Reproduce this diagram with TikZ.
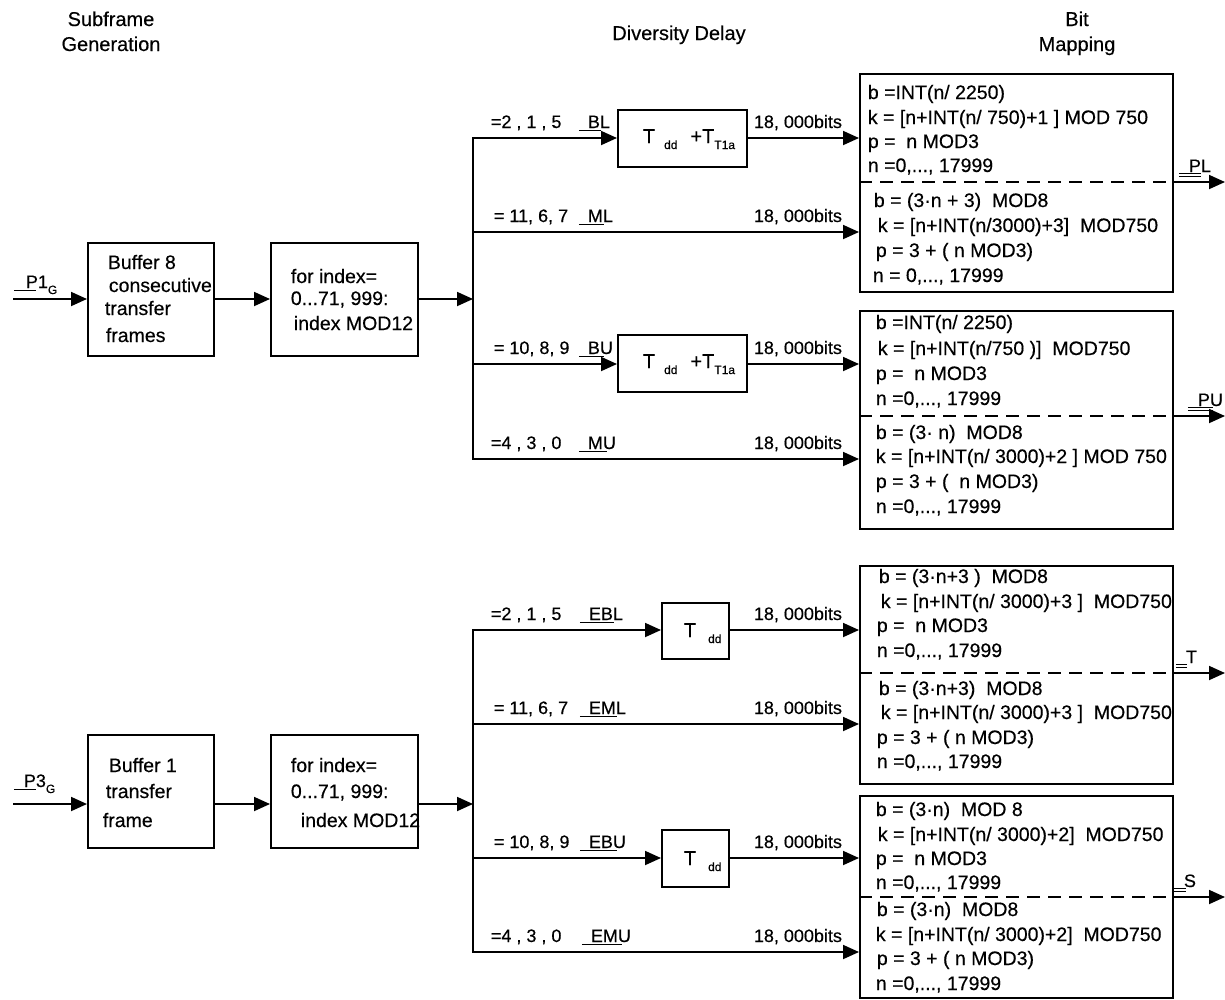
\documentclass[tikz,border=0pt]{standalone}
\usepackage{fontspec}
\setmainfont{Liberation Sans}[FakeBold=0.4]
\usetikzlibrary{arrows.meta}
\newlength\ulw
\newcommand\sul[2][9pt]{\settowidth\ulw{#2}\makebox[0pt][l]{\kern-#1\rule[-2.5pt]{\ulw}{1pt}}#2}
\newcommand\dul[1]{\settowidth\ulw{#1}\makebox[0pt][l]{\kern-10pt\rule[-1.5pt]{\ulw}{1pt}}\makebox[0pt][l]{\kern-10pt\rule[-4.5pt]{\ulw}{1pt}}#1}
\newcommand\subsm[1]{\raisebox{-6pt}{\fontsize{12}{12}\selectfont #1}}
\begin{document}
\begin{tikzpicture}[x=1pt,y=-1pt,line width=1.8pt,
  >={Triangle[length=16pt,width=14pt]},
  box/.style={draw,line width=1.8pt,inner sep=0pt,anchor=north west},
  tx/.style={anchor=base west,inner sep=0pt,font=\fontsize{19.5}{22}\selectfont},
  lb/.style={anchor=base west,inner sep=0pt,font=\fontsize{18}{22}\selectfont},
  hd/.style={anchor=base,inner sep=0pt,font=\fontsize{20}{24}\selectfont},
  dsh/.style={line width=1.5pt,dash pattern=on 13pt off 8pt}]
\useasboundingbox (0,0) rectangle (1225,999);

% headers
\node[hd] (h1) at (111,26) {Subframe};
\node[hd] (h2) at (111,51) {Generation};
\node[hd] (h3) at (679,40) {Diversity Delay};
\node[hd] (h4) at (1077,26) {Bit};
\node[hd] (h5) at (1077,51) {Mapping};

% ---------- upper group ----------
\node[box,minimum width=126pt,minimum height=113pt] (buf1) at (87,242) {};
\node[box,minimum width=147pt,minimum height=113pt] (idx1) at (270,242) {};
\node[tx] (bt1) at (107,269) {Buffer 8};
\node[tx] (bt2) at (108,292) {consecutive};
\node[tx] (bt3) at (104,315) {transfer};
\node[tx] (bt4) at (105,342) {frames};
\node[tx] (it1) at (290,283) {for index=};
\node[tx] (it2) at (290,305) {0...71, 999:};
\node[tx] (it3) at (293,330) {index MOD12};
\coordinate (in1) at (13,299);
\node[lb] (p1) at (25,288) {\sul[12pt]{P1}\subsm{G}};
\draw[->] (in1) -- (in1 -| buf1.west);
\draw[->] (buf1.east |- in1) -- (idx1.west |- in1);
\coordinate (b1t) at (473,138);
\coordinate (b1ml) at (473,232);
\coordinate (b1bu) at (473,364);
\coordinate (b1b) at (473,459);
\draw[->] (idx1.east |- in1) -- (473,299);

\node[box,minimum width=129pt,minimum height=57pt] (dl1) at (617,109) {};
\node[box,minimum width=129pt,minimum height=57pt] (dl2) at (617,334) {};
\node[tx,font=\fontsize{20}{22}\selectfont] (dt1) at (642,143) {T\kern9pt\subsm{dd}\kern13pt+T\subsm{T1a}};
\node[tx,font=\fontsize{20}{22}\selectfont] (dt2) at (642,368) {T\kern9pt\subsm{dd}\kern13pt+T\subsm{T1a}};

\node[box,minimum width=313pt,minimum height=218pt] (rb1) at (859,73) {};
\node[box,minimum width=313pt,minimum height=218pt] (rb2) at (859,310) {};

\draw[->] (b1b) -- (b1t) -- (b1t -| dl1.west);
\draw[->] (dl1.east |- b1t) -- (b1t -| rb1.west);
\draw[->] (b1ml) -- (b1ml -| rb1.west);
\draw[->] (b1bu) -- (b1bu -| dl2.west);
\draw[->] (dl2.east |- b1bu) -- (b1bu -| rb2.west);
\draw[->] (b1t) -- (b1b) -- (b1b -| rb2.west);

\node[lb] (l1) at (490,128) {=2 , 1 , 5};
\node[lb] (u1) at (587,128) {\sul{BL}};
\node[lb] (s1) at (753,128) {18, 000bits};
\node[lb] (l2) at (493,222) {= 11, 6, 7};
\node[lb] (u2) at (587,222) {\sul{ML}};
\node[lb] (s2) at (753,222) {18, 000bits};
\node[lb] (l3) at (493,354) {= 10, 8, 9};
\node[lb] (u3) at (587,354) {\sul{BU}};
\node[lb] (s3) at (753,354) {18, 000bits};
\node[lb] (l4) at (490,449) {=4 , 3 , 0};
\node[lb] (u4) at (587,449) {\sul{MU}};
\node[lb] (s4) at (753,449) {18, 000bits};

% box 1 text
\node[tx] (r1a) at (867,99) {b =INT(n/ 2250)};
\node[tx] (r1b) at (867,124) {k = [n+INT(n/ 750)+1 ] MOD 750};
\node[tx] (r1c) at (867,148) {p =\ \ n MOD3};
\node[tx] (r1d) at (867,172) {n =0,..., 17999};
\node[tx] (r1e) at (873,207) {b = (3·n + 3)\ \ MOD8};
\node[tx] (r1f) at (877,232) {k = [n+INT(n/3000)+3]\ \ MOD750};
\node[tx] (r1g) at (875,257) {p = 3 + ( n MOD3)};
\node[tx] (r1h) at (872,282) {n = 0,..., 17999};
% box 2 text
\node[tx] (r2a) at (875,329) {b =INT(n/ 2250)};
\node[tx] (r2b) at (877,355) {k = [n+INT(n/750 )]\ \ MOD750};
\node[tx] (r2c) at (875,380) {p =\ \ n MOD3};
\node[tx] (r2d) at (875,405) {n =0,..., 17999};
\node[tx] (r2e) at (875,439) {b = (3· n)\ \ MOD8};
\node[tx] (r2f) at (875,463) {k = [n+INT(n/ 3000)+2 ] MOD 750};
\node[tx] (r2g) at (875,488) {p = 3 + (\ \ n MOD3)};
\node[tx] (r2h) at (875,513) {n =0,..., 17999};

\coordinate (o1) at (1225,182);
\coordinate (o2) at (1225,416);
\draw[dsh] (rb1.west |- o1) -- (rb1.east |- o1);
\draw[->] (rb1.east |- o1) -- (o1);
\draw[dsh] (rb2.west |- o2) -- (rb2.east |- o2);
\draw[->] (rb2.east |- o2) -- (o2);
\node[lb] (q1) at (1188,172) {\dul{PL}};
\node[lb] (q2) at (1197,406) {\dul{PU}};

% ---------- lower group ----------
\node[box,minimum width=126pt,minimum height=113pt] (buf2) at (87,734) {};
\node[box,minimum width=147pt,minimum height=113pt] (idx2) at (270,734) {};
\node[tx] (ct1) at (108,772) {Buffer 1};
\node[tx] (ct2) at (105,798) {transfer};
\node[tx] (ct3) at (102,827) {frame};
\node[tx] (jt1) at (290,772) {for index=};
\node[tx] (jt2) at (290,798) {0...71, 999:};
\node[tx] (jt3) at (300,827) {index MOD12};
\coordinate (in2) at (13,804);
\node[lb] (p3) at (23,787) {\sul[10pt]{P3}\subsm{G}};
\draw[->] (in2) -- (in2 -| buf2.west);
\draw[->] (buf2.east |- in2) -- (idx2.west |- in2);
\coordinate (b2t) at (473,630);
\coordinate (b2ml) at (473,724);
\coordinate (b2bu) at (473,858);
\coordinate (b2b) at (473,952);
\draw[->] (idx2.east |- in2) -- (473,804);

\node[box,minimum width=67pt,minimum height=56pt] (dl3) at (661,602) {};
\node[box,minimum width=67pt,minimum height=57pt] (dl4) at (661,829) {};
\node[tx,font=\fontsize{20}{22}\selectfont] (dt3) at (683,637) {T\kern12pt\subsm{dd}};
\node[tx,font=\fontsize{20}{22}\selectfont] (dt4) at (683,865) {T\kern12pt\subsm{dd}};

\node[box,minimum width=313pt,minimum height=218pt] (rb3) at (859,565) {};
\node[box,minimum width=313pt,minimum height=202pt] (rb4) at (859,795) {};

\draw[->] (b2b) -- (b2t) -- (b2t -| dl3.west);
\draw[->] (dl3.east |- b2t) -- (b2t -| rb3.west);
\draw[->] (b2ml) -- (b2ml -| rb3.west);
\draw[->] (b2bu) -- (b2bu -| dl4.west);
\draw[->] (dl4.east |- b2bu) -- (b2bu -| rb4.west);
\draw[->] (b2t) -- (b2b) -- (b2b -| rb4.west);

\node[lb] (m1) at (490,620) {=2 , 1 , 5};
\node[lb] (v1) at (588,620) {\sul{EBL}};
\node[lb] (w1) at (753,620) {18, 000bits};
\node[lb] (m2) at (493,714) {= 11, 6, 7};
\node[lb] (v2) at (588,714) {\sul{EML}};
\node[lb] (w2) at (753,714) {18, 000bits};
\node[lb] (m3) at (493,848) {= 10, 8, 9};
\node[lb] (v3) at (588,848) {\sul{EBU}};
\node[lb] (w3) at (753,848) {18, 000bits};
\node[lb] (m4) at (490,942) {=4 , 3 , 0};
\node[lb] (v4) at (590,942) {\sul{EMU}};
\node[lb] (w4) at (753,942) {18, 000bits};

% box 3 text
\node[tx] (r3a) at (878,583) {b = (3·n+3 )\ \ MOD8};
\node[tx] (r3b) at (880,608) {k = [n+INT(n/ 3000)+3 ]\ \ MOD750};
\node[tx] (r3c) at (876,632) {p =\ \ n MOD3};
\node[tx] (r3d) at (876,657) {n =0,..., 17999};
\node[tx] (r3e) at (878,695) {b = (3·n+3)\ \ MOD8};
\node[tx] (r3f) at (880,719) {k = [n+INT(n/ 3000)+3 ]\ \ MOD750};
\node[tx] (r3g) at (876,744) {p = 3 + ( n MOD3)};
\node[tx] (r3h) at (876,768) {n =0,..., 17999};
% box 4 text
\node[tx] (r4a) at (875,816) {b = (3·n)\ \ MOD 8};
\node[tx] (r4b) at (877,841) {k = [n+INT(n/ 3000)+2]\ \ MOD750};
\node[tx] (r4c) at (875,865) {p =\ \ n MOD3};
\node[tx] (r4d) at (875,889) {n =0,..., 17999};
\node[tx] (r4e) at (876,916) {b = (3·n)\ \ MOD8};
\node[tx] (r4f) at (875,941) {k = [n+INT(n/ 3000)+2]\ \ MOD750};
\node[tx] (r4g) at (876,965) {p = 3 + ( n MOD3)};
\node[tx] (r4h) at (875,990) {n =0,..., 17999};

\coordinate (o3) at (1225,673);
\coordinate (o4) at (1225,897);
\draw[dsh] (rb3.west |- o3) -- (rb3.east |- o3);
\draw[->] (rb3.east |- o3) -- (o3);
\draw[dsh] (rb4.west |- o4) -- (rb4.east |- o4);
\draw[->] (rb4.east |- o4) -- (o4);
\node[lb] (q3) at (1185,663) {\dul{T}};
\node[lb] (q4) at (1183,887) {\dul{S}};
\end{tikzpicture}
\end{document}
